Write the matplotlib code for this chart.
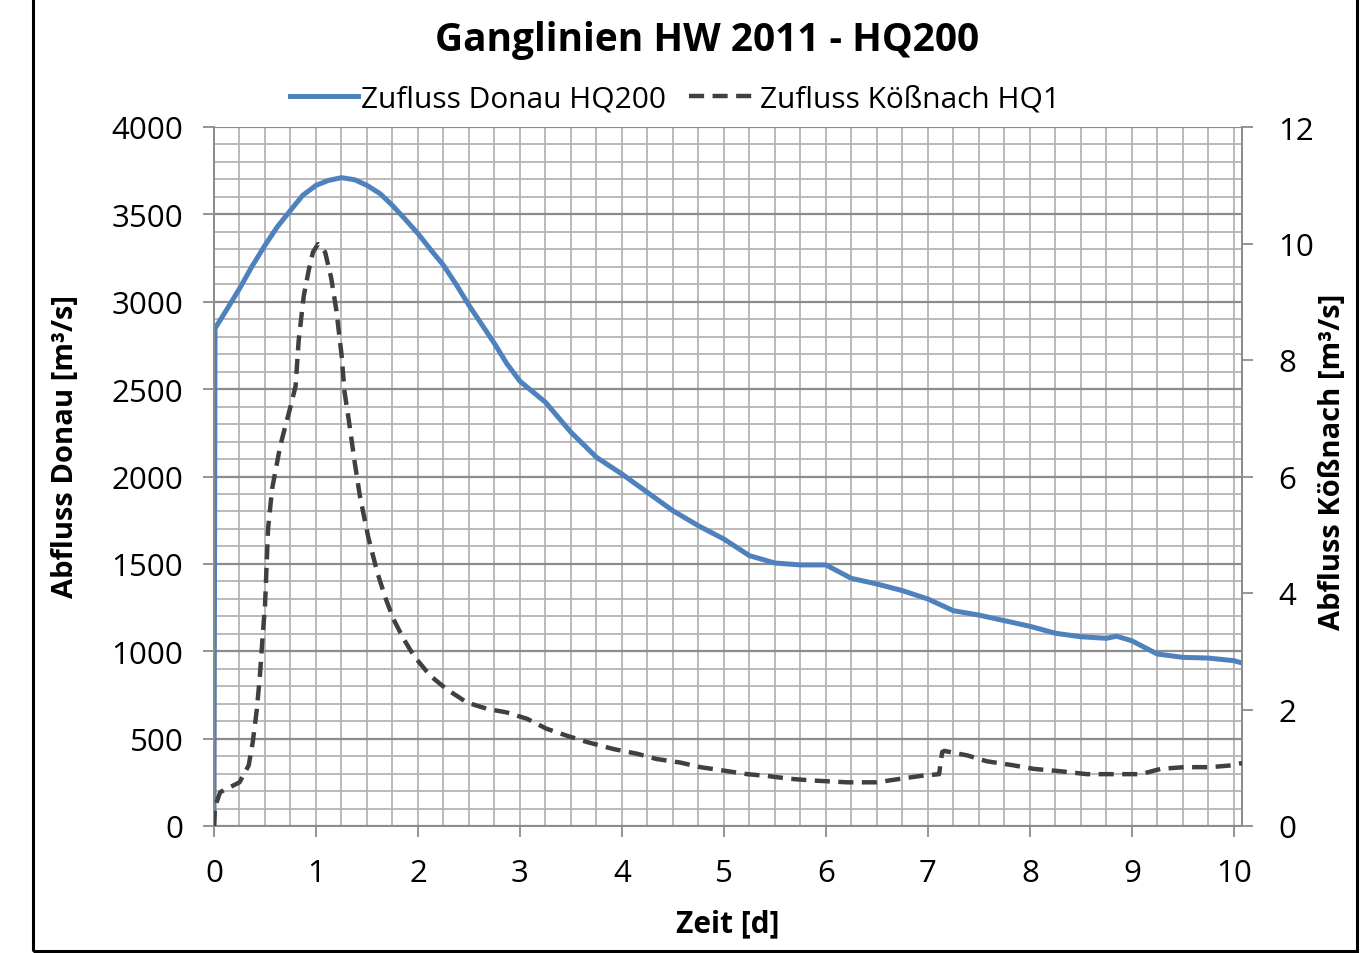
import matplotlib
matplotlib.use("Agg")
import matplotlib.pyplot as plt
from matplotlib.patches import Rectangle
from matplotlib.ticker import MultipleLocator

plt.rcParams['font.family'] = ['Open Sans', 'DejaVu Sans']

# --- data ---
t_donau = [0.0, 0.01, 0.13, 0.25, 0.375, 0.5, 0.62, 0.75, 0.87, 1.0, 1.12, 1.25,
           1.38, 1.5, 1.63, 1.75, 1.87, 2.0, 2.13, 2.25, 2.38, 2.5, 2.62, 2.75,
           2.87, 3.0, 3.25, 3.5, 3.75, 4.0, 4.25, 4.5, 4.75, 5.0, 5.25, 5.5, 5.75,
           6.0, 6.25, 6.5, 6.75, 7.0, 7.25, 7.5, 7.75, 8.0, 8.25, 8.5, 8.75, 8.85,
           9.0, 9.25, 9.5, 9.75, 10.0, 10.08]
q_donau = [0, 2847, 2960, 3075, 3205, 3323, 3428, 3523, 3609, 3666, 3694, 3710,
           3698, 3666, 3618, 3551, 3475, 3390, 3294, 3209, 3094, 2980, 2875, 2761,
           2647, 2545, 2425, 2253, 2110, 2014, 1909, 1804, 1718, 1642, 1547, 1505, 1494,
           1494, 1417, 1385, 1347, 1299, 1232, 1207, 1175, 1143, 1103, 1083, 1074, 1086,
           1060, 984, 965, 961, 946, 933]

t_koess = [0.0, 0.01, 0.06, 0.25, 0.34, 0.38, 0.42, 0.45, 0.48, 0.50, 0.53, 0.57,
           0.65, 0.75, 0.80, 0.83, 0.88, 0.93, 0.97, 1.02, 1.09, 1.15, 1.20, 1.25,
           1.28, 1.32, 1.38, 1.43, 1.51, 1.60, 1.68, 1.76, 1.86, 1.96, 2.12, 2.28,
           2.48, 2.68, 2.87, 3.07, 3.26, 3.46, 3.66, 3.92, 4.15, 4.34, 4.57, 4.77,
           5.00, 5.23, 5.42, 5.65, 5.88, 6.21, 6.50, 6.73, 6.93, 7.11, 7.14, 7.16,
           7.39, 7.58, 7.81, 8.04, 8.30, 8.56, 8.83, 9.09, 9.28, 9.51, 9.77, 9.97,
           10.08]
q_koess = [0.0, 0.33, 0.58, 0.75, 1.04, 1.44, 2.00, 2.58, 3.33, 3.78, 5.10, 5.79,
           6.53, 7.20, 7.55, 8.33, 9.10, 9.55, 9.85, 9.99, 9.85, 9.40, 8.85, 8.10,
           7.45, 6.99, 6.24, 5.67, 4.98, 4.36, 3.92, 3.55, 3.21, 2.92, 2.58, 2.35,
           2.12, 2.01, 1.95, 1.84, 1.67, 1.55, 1.44, 1.32, 1.24, 1.15, 1.09, 1.01,
           0.95, 0.89, 0.86, 0.81, 0.78, 0.75, 0.75, 0.81, 0.86, 0.89, 1.27, 1.29,
           1.21, 1.11, 1.05, 0.98, 0.94, 0.89, 0.89, 0.89, 0.98, 1.01, 1.01, 1.04,
           1.08]

x_ticks = list(range(0, 11))
y_left_ticks = list(range(0, 4001, 500))
y_right_ticks = list(range(0, 13, 2))

title = "Ganglinien HW 2011 - HQ200"
label_donau = "Zufluss Donau HQ200"
label_koess = "Zufluss Kößnach HQ1"

W, H = 1369, 954
fig = plt.figure(figsize=(W / 100, H / 100), dpi=100)
ax = fig.add_axes([214 / W, 1 - 827 / H, (1242 - 214) / W, (827 - 128) / H])
ax2 = ax.twinx()

blue = '#4F81BD'
dark = '#404040'
grid_minor = '#b4b4b4'
grid_major = '#8c8c8c'
spine_c = '#8c8c8c'

ax.set_xlim(0, 10.08)
ax.set_ylim(0, 4000)
ax2.set_ylim(0, 12)

# grid
ax.xaxis.set_minor_locator(MultipleLocator(0.25))
ax.yaxis.set_minor_locator(MultipleLocator(100))
ax.set_xticks(x_ticks)
ax.set_yticks(y_left_ticks)
ax2.set_yticks(y_right_ticks)
ax.grid(True, which='minor', axis='both', color=grid_minor, lw=1.3)
ax.grid(True, which='major', axis='x', color=grid_minor, lw=1.3)
ax.grid(True, which='major', axis='y', color=grid_major, lw=1.6)
ax.set_axisbelow(True)

l1, = ax.plot(t_donau, q_donau, color=blue, lw=3.6, solid_joinstyle='round', zorder=3)
l2, = ax2.plot(t_koess, q_koess, color=dark, lw=3.2, dashes=(3.4, 1.9), zorder=3)

for a in (ax, ax2):
    for s in a.spines.values():
        s.set_color(spine_c)
        s.set_linewidth(1.3)
    a.spines['top'].set_visible(False)

ax.tick_params(axis='both', which='minor', length=0)
ax.tick_params(axis='y', which='major', direction='out', length=8, width=1.3,
               color=spine_c, labelsize=22.5, pad=14)
ax.tick_params(axis='x', which='major', direction='out', length=8, width=1.3,
               color=spine_c, labelsize=22.5, pad=15)
ax2.tick_params(axis='y', which='major', direction='out', length=8, width=1.3,
                color=spine_c, labelsize=22.5, pad=18)

ax.set_xlabel("Zeit [d]", fontsize=21.5, fontweight='bold', labelpad=15)
ax.set_ylabel("Abfluss Donau [m³/s]", fontsize=21, fontweight='bold')
ax2.set_ylabel("Abfluss Kößnach [m³/s]", fontsize=21, fontweight='bold')
ax.yaxis.set_label_coords((80 - 214) / 1028, (827 - 447) / 699)
ax2.yaxis.set_label_coords((1318 - 214) / 1028, (827 - 462) / 699)

fig.text(707 / W, 1 - 40 / H, title, ha='center', va='center', fontsize=28,
         fontweight='bold')

fig.legend([l1, l2], [label_donau, label_koess], loc='center',
           bbox_to_anchor=(675 / W, 1 - 100 / H), ncol=2, frameon=False,
           fontsize=21.5, handlelength=2.25, handletextpad=0.1, columnspacing=0.8,
           borderaxespad=0)

fig.patches.append(Rectangle((33 / W, 2 / H), (1357 - 33) / W, 1.0, transform=fig.transFigure,
                             fill=False, edgecolor='black', lw=2.2, zorder=10))

fig.savefig("out.png", dpi=100, facecolor='white')
